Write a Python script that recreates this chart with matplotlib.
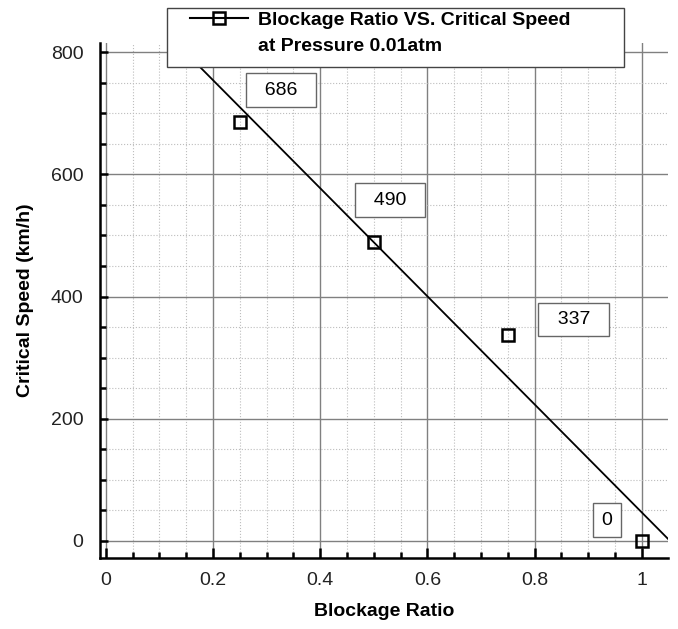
import numpy as np
import matplotlib.pyplot as plt
from matplotlib.lines import Line2D
from matplotlib.patches import Rectangle
from matplotlib.ticker import MultipleLocator

plt.rcParams['font.family'] = ['Liberation Sans', 'DejaVu Sans']

# data
blockage = [0.25, 0.5, 0.75, 1.0]
speed = [686, 490, 337, 0]
labels = ["686", "490", "337", "0"]
label_x = [0.327, 0.530, 0.873, 0.935]
label_y = [738, 558, 362, 34]

W, H = 678, 629
fig = plt.figure(figsize=(6.78, 6.29), dpi=100)
ax = fig.add_axes([0.1475, 0.1129, 0.8378, 0.8187])

ax.set_xlim(-0.011, 1.049)
ax.set_ylim(-28, 815)

# least squares line through the points
k, b = np.polyfit(blockage, speed, 1)
xs = np.array([-0.011, 1.049])
ax.plot(xs, k * xs + b, color="black", lw=1.3, zorder=3)
ax.plot(blockage, speed, ls="none", marker="s", ms=9, mfc="none",
        mec="black", mew=1.8, zorder=4)

for t, lx, ly in zip(labels, label_x, label_y):
    txt = t if len(t) < 2 else "  " + t + "  "
    ax.text(lx, ly, txt, ha="center", va="center", fontsize=14,
            bbox=dict(boxstyle="square,pad=0.42", fc="white", ec="#666666", lw=1),
            zorder=5)

ax.xaxis.set_major_locator(MultipleLocator(0.2))
ax.xaxis.set_minor_locator(MultipleLocator(0.05))
ax.yaxis.set_major_locator(MultipleLocator(200))
ax.yaxis.set_minor_locator(MultipleLocator(50))
ax.set_xticks([0, 0.2, 0.4, 0.6, 0.8, 1.0])
ax.set_xticklabels(["0", "0.2", "0.4", "0.6", "0.8", "1"])

ax.grid(which="major", color="#808080", lw=1.0, ls="-")
ax.grid(which="minor", color="#bdbdbd", lw=0.8, ls=":")
ax.set_axisbelow(True)

ax.tick_params(which="both", direction="in", width=1.8, color="black",
               labelsize=14, labelcolor="#222222")
ax.tick_params(axis="x", which="major", length=7, pad=10)
ax.tick_params(axis="x", which="minor", length=4)
ax.tick_params(axis="y", which="major", length=6, pad=12)
ax.tick_params(axis="y", which="minor", length=4)

for s in ["top", "right"]:
    ax.spines[s].set_visible(False)
for s in ["left", "bottom"]:
    ax.spines[s].set_linewidth(1.8)

ax.set_xlabel("Blockage Ratio", fontsize=14, fontweight="bold", labelpad=10)
ax.set_ylabel("Critical Speed (km/h)", fontsize=14, fontweight="bold", labelpad=12)

# legend frame drawn by hand so the box can be wider than its text
fig.patches.append(Rectangle((167 / W, 1 - 67 / H), (624 - 167) / W, 59 / H,
                             transform=fig.transFigure, fc="white",
                             ec="#444444", lw=1.0, zorder=4))

handles = [Line2D([], [], color="black", lw=1.5, marker="s", ms=9,
                  mfc="none", mec="black", mew=1.8),
           Line2D([], [], ls="none")]
leg = fig.legend(handles, ["Blockage Ratio VS. Critical Speed", "at Pressure 0.01atm"],
                 loc="upper left", bbox_to_anchor=(190 / W, 1 - 11 / H),
                 prop=dict(size=14, weight="bold"), frameon=False,
                 handlelength=3.0, handletextpad=0.5, labelspacing=0.45,
                 borderpad=0, borderaxespad=0)
leg.set_zorder(5)

fig.savefig("out.png", dpi=100)
